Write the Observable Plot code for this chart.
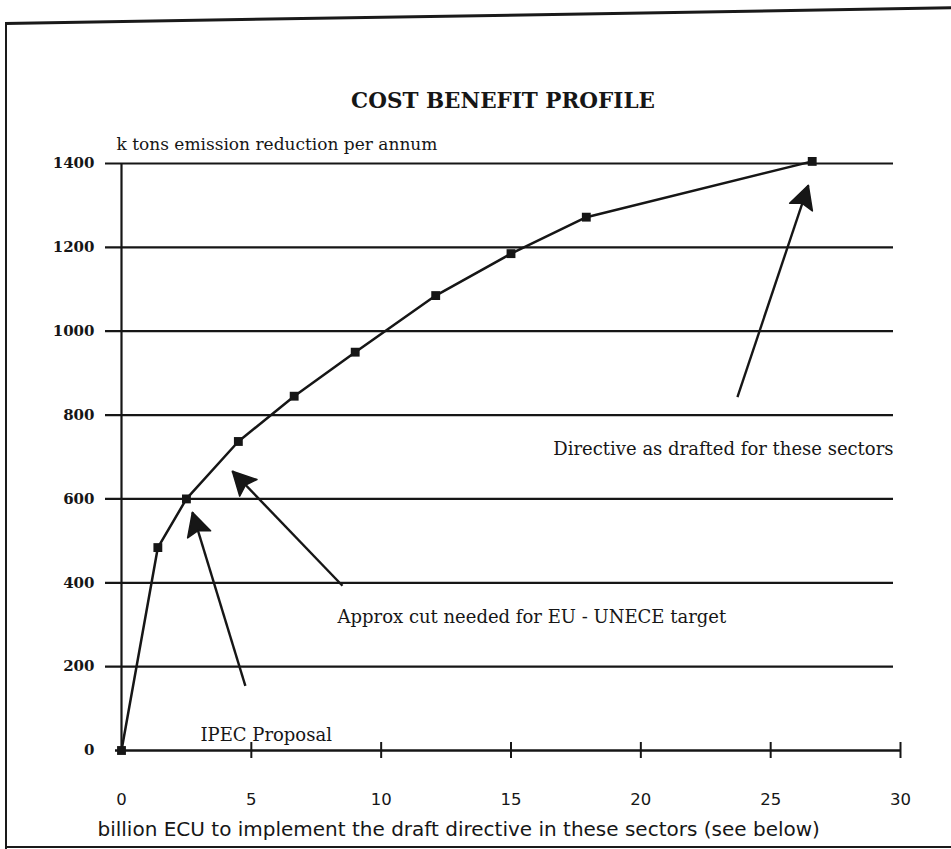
<!DOCTYPE html>
<html><head><meta charset="utf-8">
<script src="https://cdn.jsdelivr.net/npm/d3@7"></script>
<script src="https://cdn.jsdelivr.net/npm/@observablehq/plot@0.6"></script>
<style>
body{margin:0;background:#fff;}
#wrap{position:relative;width:951px;height:849px;overflow:hidden;background:#fff;}
#frameL{position:absolute;left:5px;top:23px;width:2px;height:830px;background:#1a1a1a;}
#frameT{position:absolute;left:5px;top:22px;width:960px;height:3px;background:#1a1a1a;transform-origin:0 0;transform:rotate(-0.95deg);}
#frameB{position:absolute;left:5px;top:846px;width:960px;height:2px;background:#1a1a1a;}
#chart{position:absolute;left:0;top:0;}
</style></head><body>
<div id="wrap"><div id="frameT"></div><div id="frameL"></div><div id="frameB"></div><div id="chart"></div></div>
<script>
// ---- data ----
const costBillionECU = [0, 1.4, 2.5, 4.5, 6.65, 9.0, 12.1, 15.0, 17.9, 26.6];
const reductionKt    = [0, 484, 600, 737, 845, 950, 1085, 1185, 1272, 1405];
const xTicks = [0, 5, 10, 15, 20, 25, 30];
const yTicks = [0, 200, 400, 600, 800, 1000, 1200, 1400];
const titleText = "COST BENEFIT PROFILE";
const yLabelText = "k tons emission reduction per annum";
const xLabelText = "billion ECU to implement the draft directive in these sectors (see below)";
const noteTexts = ["Directive as drafted for these sectors", "Approx cut needed for EU - UNECE target", "IPEC Proposal"];
const noteX = [16.63, 8.32, 3.04];
const noteY = [718, 317, 37];
const arrowFromX = [23.72, 8.51, 4.77];
const arrowFromY = [843, 393, 154];
const arrowToX = [26.45, 4.27, 2.73];
const arrowToY = [1348, 666, 568];

// ---- layout ----
const W = 951, H = 849, ML = 121, MR = 51, MT = 163, MB = 99;
const xDomain = [0, 30], yDomain = [0, 1400];
const px = d3.scaleLinear(xDomain, [ML, W - MR]);
const py = d3.scaleLinear(yDomain, [H - MB, MT]);

const points = costBillionECU.map((x, i) => ({x, y: reductionKt[i]}));
const notes = noteTexts.map((t, i) => ({t, x: noteX[i], y: noteY[i]}));
const arrows = noteTexts.map((t, i) => ({x1: arrowFromX[i], y1: arrowFromY[i], x2: arrowToX[i], y2: arrowToY[i]}));

function headSymbol(a) {
  const dx = px(a.x2) - px(a.x1), dy = py(a.y2) - py(a.y1);
  const len = Math.hypot(dx, dy), ux = dx / len, uy = dy / len;
  const L = 23, Wd = 12, N = 19;
  return {draw(ctx) {
    ctx.moveTo(0, 0);
    ctx.lineTo(-ux * L - uy * Wd, -uy * L + ux * Wd);
    ctx.lineTo(-ux * N, -uy * N);
    ctx.lineTo(-ux * L + uy * Wd, -uy * L - ux * Wd);
    ctx.closePath();
  }};
}

const ink = "#161616";
const serif = "DejaVu Serif";
const sans = "DejaVu Sans";

const chart = Plot.plot({
  width: W, height: H,
  marginLeft: ML, marginRight: MR, marginTop: MT, marginBottom: MB,
  style: {background: "transparent", color: ink},
  x: {domain: xDomain, label: null},
  y: {domain: yDomain, label: null},
  marks: [
    Plot.ruleY(yTicks.filter(d => d > 0), {y: d => d, insetLeft: -16, insetRight: 7, stroke: ink, strokeWidth: 2.2}),
    Plot.ruleY([0], {y: d => d, insetLeft: -6, stroke: ink, strokeWidth: 2.4}),
    Plot.ruleX([0], {x: d => d, stroke: ink, strokeWidth: 2.2}),
    Plot.ruleX(xTicks.filter(d => d > 0), {x: d => d, y1: 0, y2: 0, insetTop: -8, insetBottom: -8, stroke: ink, strokeWidth: 2}),
    Plot.axisY({ticks: yTicks, tickSize: 0, tickPadding: 27, tickFormat: d => String(d), fontSize: 15, fontWeight: "bold", fontFamily: serif, label: null}),
    Plot.axisX({ticks: xTicks, tickSize: 0, tickPadding: 43, tickFormat: d => String(d), fontSize: 16.5, fontFamily: sans, label: null}),
    Plot.line(points, {x: "x", y: "y", curve: "linear", stroke: ink, strokeWidth: 2.5}),
    Plot.dot(points, {x: "x", y: "y", symbol: "square", r: 5, fill: ink, stroke: null}),
    Plot.link(arrows, {x1: "x1", y1: "y1", x2: "x2", y2: "y2", stroke: ink, strokeWidth: 2.4}),
    ...arrows.map(a => Plot.dot([a], {x: "x2", y: "y2", symbol: headSymbol(a), r: 5, fill: ink, stroke: ink, strokeWidth: 1.5, strokeLinejoin: "round"})),
    Plot.text(notes, {x: "x", y: "y", text: "t", textAnchor: "start", fontSize: 18, fontFamily: serif, fill: ink}),
    Plot.text([titleText], {text: d => d, frameAnchor: "top", dx: -8, dy: -71, fontSize: 21.5, fontWeight: "bold", fontFamily: serif, fill: ink}),
    Plot.text([yLabelText], {text: d => d, frameAnchor: "top-left", textAnchor: "start", dx: -5, dy: -26, fontSize: 17, fontFamily: serif, fill: ink}),
    Plot.text([xLabelText], {text: d => d, frameAnchor: "bottom-left", textAnchor: "start", dx: -24, dy: 85, fontSize: 20, fontFamily: sans, fill: ink})
  ]
});
document.getElementById("chart").appendChild(chart);
</script>
</body></html>
